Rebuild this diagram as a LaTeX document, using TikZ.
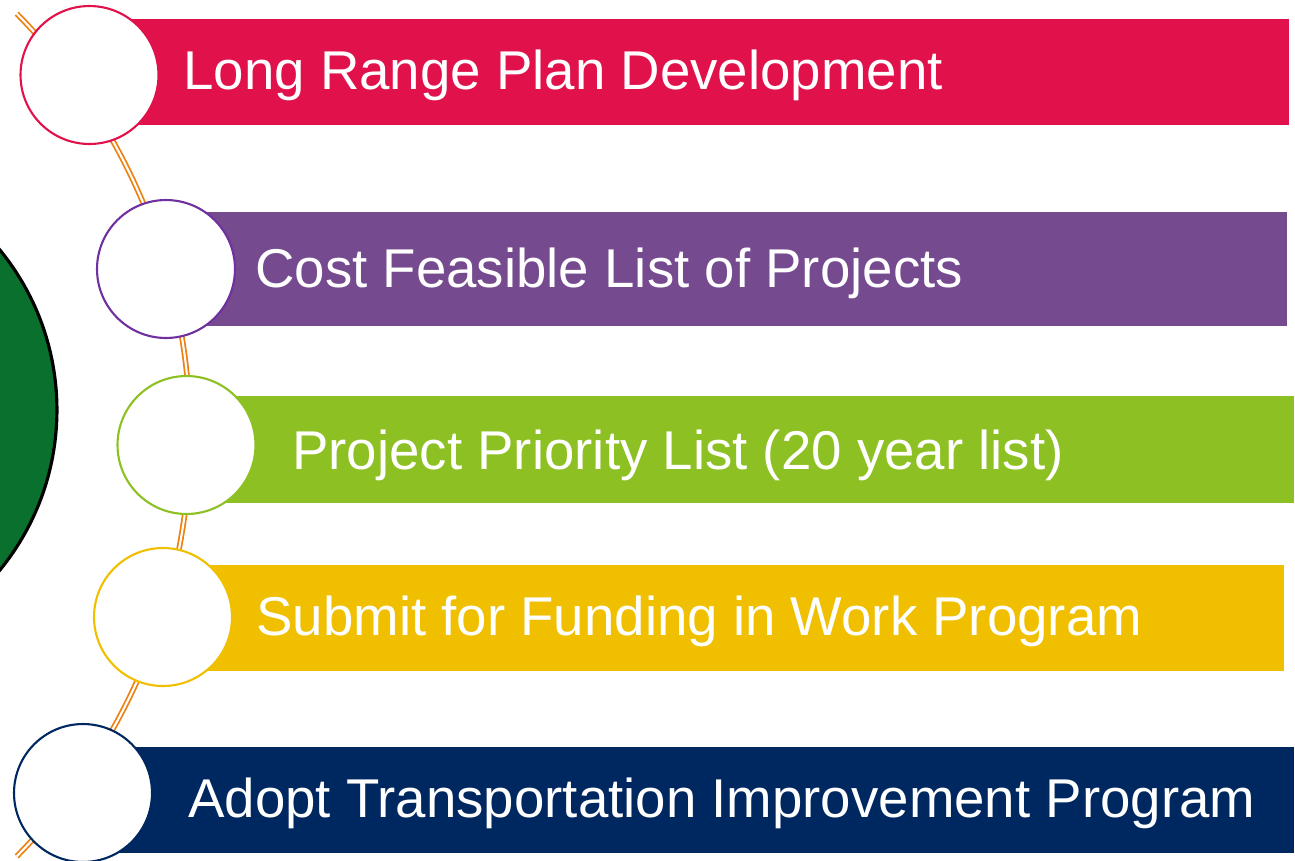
\documentclass[tikz,border=0pt]{standalone}
\usepackage{fontspec}
\setmainfont{Liberation Sans}
\definecolor{stepred}{HTML}{E1124B}
\definecolor{steppurple}{HTML}{754A8E}
\definecolor{steppurpleline}{HTML}{7030A0}
\definecolor{stepgreen}{HTML}{8DC022}
\definecolor{stepyellow}{HTML}{F0C000}
\definecolor{stepnavy}{HTML}{002860}
\definecolor{hubgreen}{HTML}{0A702E}
\definecolor{railorange}{HTML}{EE8010}
\begin{document}
\begin{tikzpicture}[x=0.02cm,y=-0.02cm,
  bar/.style={fill=#1, draw=none, rectangle, anchor=north west, inner sep=0pt},
  stepring/.style={circle, draw=#1, fill=white, line width=1.2pt, minimum size=2.76cm, inner sep=0pt},
  label/.style={text=white, anchor=base west, inner sep=0pt, font=\fontsize{31.1}{38}\selectfont},
  rail/.style={draw=railorange, line width=1pt, double=white, double distance=1.2pt}]
\useasboundingbox (0,0) rectangle (1295,860);

% large hub circle on the left edge
\node[circle, fill=hubgreen, draw=black, line width=1.8pt, minimum size=10.12cm, inner sep=0pt] (hub) at (-196,410) {};

% curved rail linking the steps
\coordinate (railtop) at (17,14);
\coordinate (railbottom) at (17,857);
\draw[rail] plot[domain=-44.7:44.7, samples=120] ({-409+599*cos(\x)},{435+599*sin(\x)});

% coloured bars
\node[bar=stepred,    minimum width=1159*0.02cm, minimum height=106*0.02cm] (b1) at (130,19) {};
\node[bar=steppurple, minimum width=1121*0.02cm, minimum height=114*0.02cm] (b2) at (166,212) {};
\node[bar=stepgreen,  minimum width=1108*0.02cm, minimum height=107*0.02cm] (b3) at (186,396) {};
\node[bar=stepyellow, minimum width=1121*0.02cm, minimum height=106*0.02cm] (b4) at (163,565) {};
\node[bar=stepnavy,   minimum width=1211*0.02cm, minimum height=106*0.02cm] (b5) at (83,747) {};

% step circles
\node[stepring=stepred]        (c1) at (89.5,75) {};
\node[stepring=steppurpleline] (c2) at (166,269) {};
\node[stepring=stepgreen]      (c3) at (186.5,445) {};
\node[stepring=stepyellow]     (c4) at (163,617) {};
\node[stepring=stepnavy]       (c5) at (83,793) {};

% labels
\node[label] (t1) at (183,89)  {Long Range Plan Development};
\node[label] (t2) at (255,287) {Cost Feasible List of Projects};
\node[label] (t3) at (292,469) {Project Priority List (20 year list)};
\node[label] (t4) at (256,635) {Submit for Funding in Work Program};
\node[label] (t5) at (188,817) {Adopt Transportation Improvement Program};
\end{tikzpicture}
\end{document}
